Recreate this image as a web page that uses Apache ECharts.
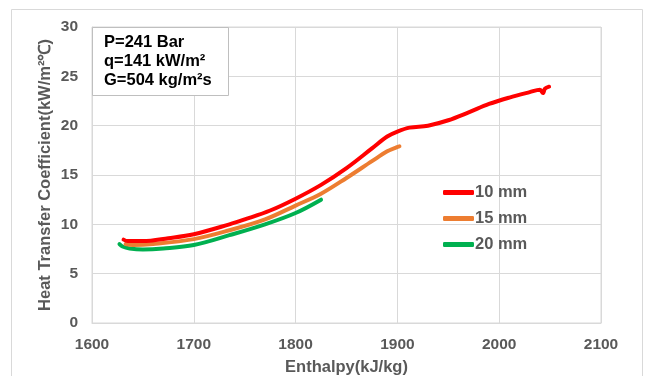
<!DOCTYPE html>
<html>
<head>
<meta charset="utf-8">
<script src="https://cdn.jsdelivr.net/npm/echarts@6/dist/echarts.min.js"></script>
<style>
  html, body { margin: 0; padding: 0; background: #fff; }
  #chart { width: 646px; height: 376px; }
</style>
</head>
<body>
<div id="chart"></div>
<script>
// values
const seriesNames = ["10 mm", "15 mm", "20 mm"];
const seriesColors = ["#FF0000", "#ED7D31", "#00B050"];

const enthalpy10 = [1631, 1635, 1650, 1675, 1700, 1735, 1750, 1775, 1800, 1825, 1850, 1875, 1890, 1900, 1912, 1930, 1950, 1970, 1990, 2010, 2030, 2040, 2043, 2045, 2049];
const htc10 = [8.45, 8.3, 8.3, 8.6, 9.0, 10.0, 10.5, 11.4, 12.6, 14.0, 15.7, 17.7, 18.9, 19.4, 19.8, 20.0, 20.55, 21.35, 22.2, 22.85, 23.4, 23.65, 23.3, 23.75, 23.95];

const enthalpy15 = [1633, 1640, 1660, 1700, 1735, 1770, 1800, 1825, 1850, 1875, 1890, 1899, 1902];
const htc15 = [8.0, 7.9, 8.0, 8.5, 9.4, 10.5, 11.9, 13.1, 14.7, 16.4, 17.4, 17.8, 17.9];

const enthalpy20 = [1627, 1630, 1637, 1650, 1670, 1700, 1735, 1770, 1800, 1825];
const htc20 = [8.0, 7.75, 7.55, 7.45, 7.55, 7.9, 8.9, 10.0, 11.15, 12.5];

const xTicks = [1600, 1700, 1800, 1900, 2000, 2100];
const yTicks = [0, 5, 10, 15, 20, 25, 30];

const noteLines = ["P=241 Bar", "q=141 kW/m\u00b2", "G=504 kg/m\u00b2s"];

const allX = [enthalpy10, enthalpy15, enthalpy20];
const allY = [htc10, htc15, htc20];

const grayText = "#595959";
const gridColor = "#d9d9d9";
const fontFam = "Liberation Sans";

const series = seriesNames.map((name, i) => ({
  type: "line",
  name: name,
  data: allX[i].map((x, j) => [x, allY[i][j]]),
  smooth: 0.35,
  showSymbol: false,
  lineStyle: { color: seriesColors[i], width: 4, cap: "round", join: "round" },
  itemStyle: { color: seriesColors[i] },
  z: 3 - i,
}));

const option = {
  animation: false,
  backgroundColor: "#fff",
  grid: {
    left: 92, right: 45, top: 27, bottom: 53,
    containLabel: false, outerBoundsMode: "none",
    show: true, borderColor: gridColor, borderWidth: 1,
  },
  xAxis: {
    type: "value",
    min: xTicks[0],
    max: xTicks[xTicks.length - 1],
    interval: 100,
    name: "Enthalpy(kJ/kg)",
    nameLocation: "middle",
    nameGap: 36,
    nameMoveOverlap: false,
    nameTextStyle: { color: grayText, fontSize: 16.5, fontWeight: "bold", fontFamily: fontFam },
    axisLine: { lineStyle: { color: gridColor, width: 1 } },
    axisTick: { show: false },
    axisLabel: { color: grayText, fontSize: 15.5, fontWeight: "bold", fontFamily: fontFam, margin: 14, formatter: v => String(v) },
    splitLine: { lineStyle: { color: gridColor, width: 1 } },
  },
  yAxis: {
    type: "value",
    min: yTicks[0],
    max: yTicks[yTicks.length - 1],
    interval: 5,
    name: "Heat Transfer Coefficient(kW/m\u00b2\u2103)",
    nameLocation: "middle",
    nameGap: 38,
    nameMoveOverlap: false,
    nameTextStyle: { color: grayText, fontSize: 16.5, fontWeight: "bold", fontFamily: fontFam },
    axisLine: { show: true, lineStyle: { color: gridColor, width: 1 } },
    axisTick: { show: false },
    axisLabel: { color: grayText, fontSize: 15.5, fontWeight: "bold", fontFamily: fontFam, margin: 14 },
    splitLine: { lineStyle: { color: gridColor, width: 1 } },
  },
  legend: {
    data: seriesNames,
    orient: "vertical",
    left: 438,
    top: 179,
    itemWidth: 31,
    itemHeight: 5,
    itemGap: 9,
    icon: "roundRect",
    textStyle: { color: grayText, fontSize: 16.5, fontWeight: "bold", fontFamily: fontFam, padding: [0, 0, 0, -4] },
  },
  graphic: [
    {
      type: "rect",
      left: 9, top: 7,
      shape: { width: 631, height: 380 },
      style: { fill: "none", stroke: gridColor, lineWidth: 1 },
      silent: true,
      z: -1,
    },
    {
      type: "rect",
      left: 92, top: 27,
      shape: { width: 136, height: 68 },
      style: { fill: "#fff", stroke: "#bfbfbf", lineWidth: 1 },
      z: 10,
    },
    {
      type: "text",
      left: 104, top: 33,
      style: {
        text: noteLines.join("\n"),
        fill: "#000",
        font: "bold 16.5px 'Liberation Sans'",
        lineHeight: 19,
      },
      z: 11,
    },
  ],
  series: series,
};

const chart = echarts.init(document.getElementById("chart"), null, { renderer: "canvas" });
chart.setOption(option);
</script>
</body>
</html>
